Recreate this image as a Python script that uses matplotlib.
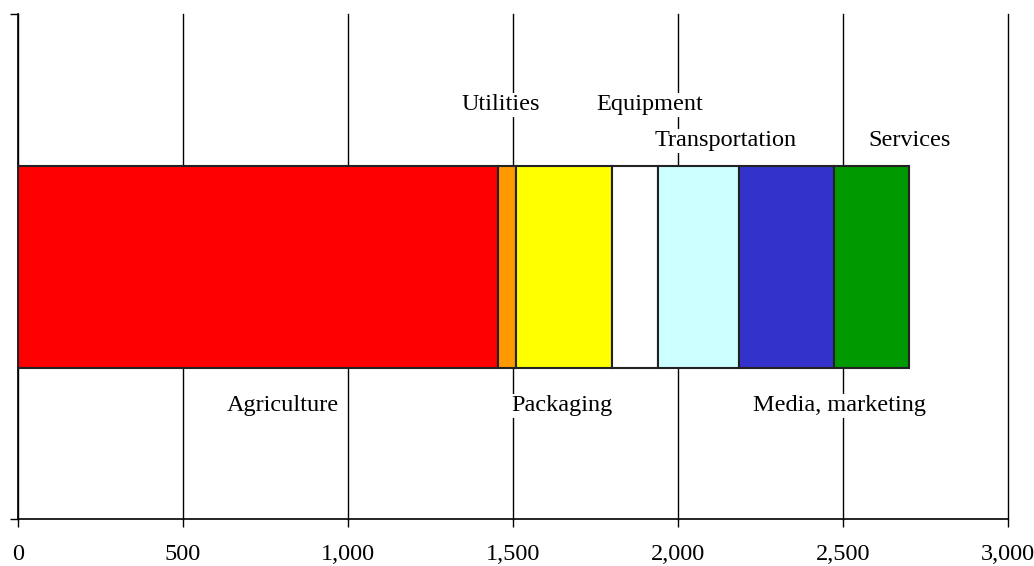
import matplotlib
matplotlib.use("Agg")
import matplotlib.pyplot as plt

# segment values
categories = ["Agriculture", "Utilities", "Packaging", "Equipment",
              "Transportation", "Media, marketing", "Services"]
values = [1455, 55, 289, 141, 244, 289, 227]
colors = ["#ff0000", "#ff9900", "#ffff00", "#ffffff",
          "#ccffff", "#3333cc", "#009900"]

# label anchor positions in data units (x) and above/below the bar
label_x = [804, 1463, 1648, 1914, 2144, 2490, 2702]
label_side = ["below", "above2", "below", "above2", "above", "below", "above"]

xticks = [0, 500, 1000, 1500, 2000, 2500, 3000]
xticklabels = ["0", "500", "1,000", "1,500", "2,000", "2,500", "3,000"]

plt.rcParams["font.family"] = ["Liberation Serif", "DejaVu Serif"]

fig = plt.figure(figsize=(10.34, 5.66), dpi=100)
ax = fig.add_axes([18 / 1034, 47 / 566, 990 / 1034, 505 / 566])

left = 0
for v, c in zip(values, colors):
    ax.barh(0.5, v, left=left, height=0.4, color=c,
            edgecolor="#222222", linewidth=1.5, zorder=3)
    left += v

# labels sit on a white box that breaks the gridlines
y_pos = {"above": 0.749, "above2": 0.82, "below": 0.224}
for name, x, side in zip(categories, label_x, label_side):
    ax.text(x, y_pos[side], name, ha="center", va="center",
            fontsize=17.5, color="black", zorder=4,
            bbox=dict(facecolor="white", edgecolor="none", pad=1))

ax.set_xlim(0, 3000)
ax.set_ylim(0, 1)
ax.set_xticks(xticks)
ax.set_xticklabels(xticklabels, fontsize=17.5)
ax.set_yticks([0, 1])
ax.set_yticklabels([])
ax.tick_params(axis="x", direction="out", length=6, width=1, pad=12)
ax.tick_params(axis="y", direction="out", length=6, width=1)
ax.grid(axis="x", color="black", linewidth=1, zorder=0)
for gl in ax.get_xgridlines():
    gl.set_clip_on(False)
ax.spines["top"].set_visible(False)
ax.spines["right"].set_visible(False)
for s in ("left", "bottom"):
    ax.spines[s].set_linewidth(1.2)

fig.savefig("out.png", dpi=100)
